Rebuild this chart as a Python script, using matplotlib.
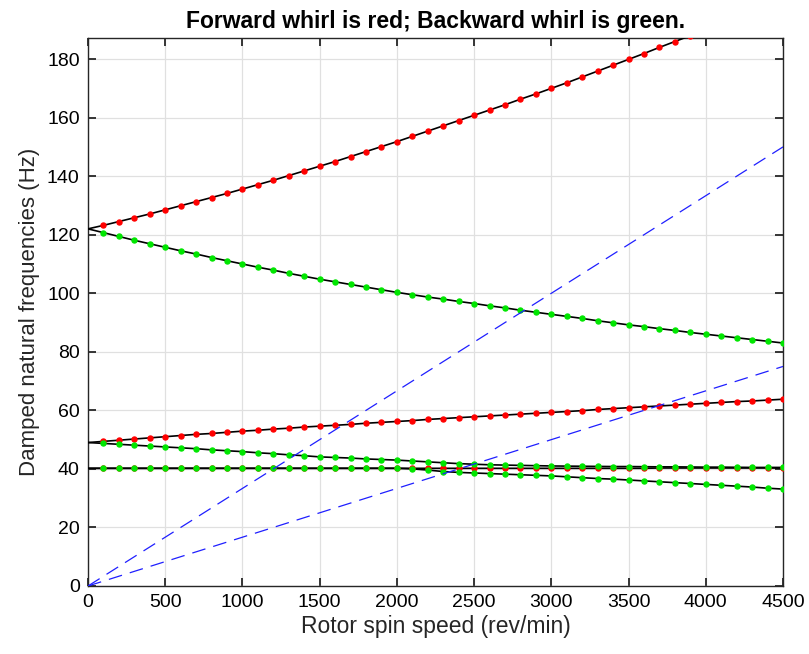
import numpy as np
import matplotlib
matplotlib.use("Agg")
import matplotlib.pyplot as plt

plt.rcParams['font.family'] = ['Liberation Sans', 'DejaVu Sans']

# rotor speed grid (rev/min), one point every 100 rev/min
speed = np.arange(0, 4501, 100)

# forward whirl modes (red)
fwd1 = [122.0, 123.2, 124.5, 125.8, 127.1, 128.5, 129.9, 131.3, 132.7, 134.1,
        135.6, 137.1, 138.6, 140.2, 141.8, 143.4, 145.0, 146.7, 148.4, 150.1,
        151.8, 153.6, 155.4, 157.2, 159.0, 160.8, 162.6, 164.4, 166.3, 168.1,
        170.0, 171.9, 173.9, 175.9, 177.9, 179.9, 181.9, 184.0, 186.0, 188.0,
        190.0, 192.0, 194.0, 196.0, 198.0, 200.0]
fwd2 = [49.0, 49.4, 49.8, 50.2, 50.6, 51.0, 51.4, 51.8, 52.1, 52.5,
        52.9, 53.2, 53.6, 53.9, 54.3, 54.6, 54.9, 55.2, 55.6, 55.9,
        56.2, 56.5, 56.9, 57.2, 57.5, 57.8, 58.1, 58.4, 58.7, 59.0,
        59.3, 59.6, 59.9, 60.3, 60.6, 60.9, 61.2, 61.5, 61.8, 62.1,
        62.4, 62.7, 63.0, 63.2, 63.5, 63.8]
fwd3 = [40.2, 40.2, 40.2, 40.2, 40.2, 40.2, 40.2, 40.2, 40.2, 40.2,
        40.2, 40.2, 40.2, 40.2, 40.2, 40.2, 40.2, 40.2, 40.2, 40.2,
        40.2, 40.2, 40.2, 40.2, 40.2, 40.2, 40.2, 40.2, 40.2, 40.2,
        40.2, 40.2, 40.2, 40.2, 40.2, 40.2, 40.2, 40.3, 40.3, 40.3,
        40.3, 40.3, 40.3, 40.3, 40.3, 40.3]

# backward whirl modes (green)
bwd1 = [122.0, 120.7, 119.4, 118.1, 116.9, 115.7, 114.5, 113.4, 112.2, 111.1,
        110.0, 108.9, 107.9, 106.8, 105.8, 104.8, 103.9, 103.0, 102.1, 101.2,
        100.3, 99.5, 98.7, 98.0, 97.2, 96.5, 95.7, 95.0, 94.2, 93.5,
        92.8, 92.1, 91.4, 90.6, 89.9, 89.2, 88.6, 87.9, 87.3, 86.6,
        86.0, 85.4, 84.8, 84.2, 83.6, 83.0]
bwd2 = [49.0, 48.7, 48.4, 48.1, 47.8, 47.5, 47.2, 46.9, 46.5, 46.2,
        45.9, 45.5, 45.2, 44.8, 44.5, 44.1, 43.9, 43.7, 43.4, 43.2,
        43.0, 42.7, 42.4, 42.1, 41.8, 41.6, 41.4, 41.3, 41.2, 41.1,
        41.0, 40.95, 40.9, 40.85, 40.8, 40.8, 40.75, 40.7, 40.7, 40.65,
        40.6, 40.6, 40.55, 40.5, 40.5, 40.5]
bwd3 = [40.2, 40.2, 40.2, 40.2, 40.2, 40.2, 40.2, 40.2, 40.2, 40.2,
        40.2, 40.2, 40.2, 40.2, 40.2, 40.2, 40.2, 40.2, 40.2, 40.2,
        40.2, 40.0, 39.6, 39.1, 38.8, 38.6, 38.4, 38.2, 38.0, 37.8,
        37.6, 37.3, 37.0, 36.7, 36.5, 36.2, 35.9, 35.6, 35.3, 35.0,
        34.7, 34.4, 34.1, 33.8, 33.4, 33.1]

# excitation lines: 1x and 2x running speed (Hz at 0 and 4500 rev/min)
excite_speed = [0, 4500]
excite_1x = [0, 75]
excite_2x = [0, 150]


fig = plt.figure(figsize=(8.09, 6.54), dpi=100)
ax = fig.add_axes([0.1088, 0.104, 0.8591, 0.8379])

for mode in [fwd1, fwd2, fwd3, bwd1, bwd2, bwd3]:
    ax.plot(speed, mode, color='k', lw=1.2, zorder=3)

for mode in [fwd1, fwd2, fwd3]:
    ax.plot(speed[1:], mode[1:], ls='none', marker='o', ms=3.6,
            mfc='#ff0000', mec='#ff0000', zorder=4)
for mode in [bwd1, bwd2, bwd3]:
    ax.plot(speed[1:], mode[1:], ls='none', marker='o', ms=3.6,
            mfc='#00e600', mec='#00e600', zorder=5)

for line in [excite_1x, excite_2x]:
    ax.plot(excite_speed, line, color='#1f1fff', lw=0.9,
            dashes=(11, 6.5), zorder=6)

ax.set_xlim(0, 4500)
ax.set_ylim(0, 187.2)
ax.set_xticks(np.arange(0, 4501, 500))
ax.set_yticks(np.arange(0, 181, 20))
ax.grid(True, color='#e0e0e0', lw=0.9)
ax.set_axisbelow(True)
ax.tick_params(direction='in', length=6, width=1.3, color='#262626',
               labelsize=14, pad=6, top=True, right=True)
for side in ax.spines.values():
    side.set_color('#262626')
    side.set_linewidth(1.0)

ax.set_xlabel('Rotor spin speed (rev/min)', fontsize=16.5, color='#262626',
              labelpad=3)
ax.set_ylabel('Damped natural frequencies (Hz)', fontsize=16, color='#262626',
              labelpad=5)
ax.set_title('Forward whirl is red; Backward whirl is green.',
             fontsize=16.5, fontweight='bold', pad=7)

fig.savefig('out.png', dpi=100)
